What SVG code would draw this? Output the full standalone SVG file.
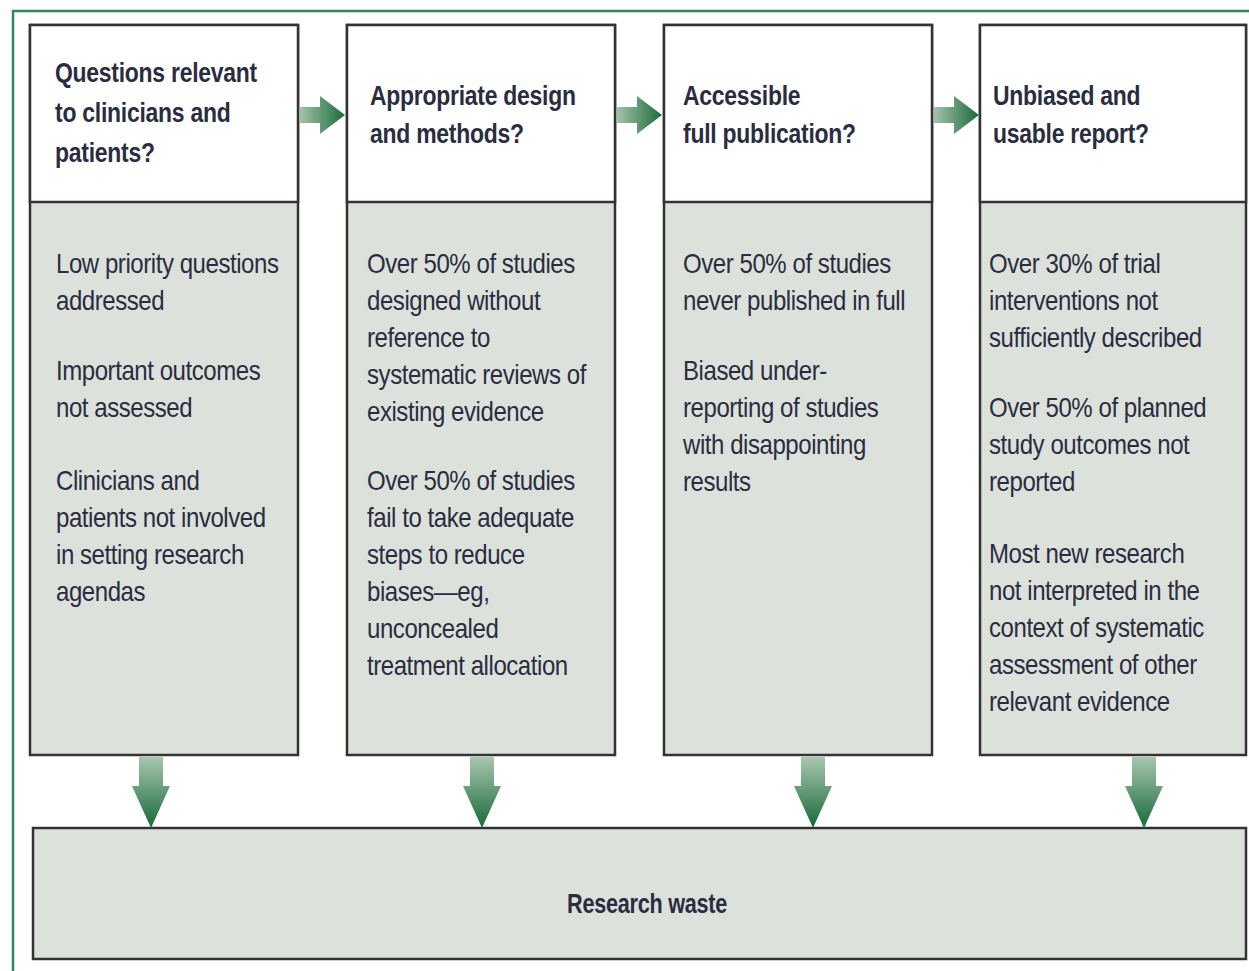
<svg xmlns="http://www.w3.org/2000/svg" width="1249" height="971" viewBox="0 0 1249 971">
<defs>
<style>
.frame{fill:none;stroke:#2f8a5a;stroke-width:2.5}
.hdr{fill:#ffffff;stroke:#333333;stroke-width:2.5}
.body{fill:#dde1dc;stroke:#333333;stroke-width:2.5}
.t{font-family:"Liberation Sans",Arial,sans-serif;font-size:27px;fill:#2a2d40}
.h{font-weight:bold;letter-spacing:-0.3px}
.b{letter-spacing:-0.5px}
</style>
<linearGradient id="gr" x1="0" y1="0" x2="1" y2="0">
<stop offset="0" stop-color="#a3c2aa"/>
<stop offset="1" stop-color="#1b6b3b"/>
</linearGradient>
<linearGradient id="gd" x1="0" y1="0" x2="0" y2="1">
<stop offset="0" stop-color="#a8c6b0"/>
<stop offset="1" stop-color="#166a38"/>
</linearGradient>
<path id="ar" d="M0,-8 L20,-8 L20,-19 L45,0 L20,19 L20,8 L0,8 Z"/>
<path id="ad" d="M-12,0 L12,0 L12,29 L19,29 L0,71 L-19,29 L-12,29 Z"/>
</defs>
<rect x="0" y="0" width="1249" height="971" fill="#ffffff"/>
<rect class="frame" x="13" y="11" width="1260" height="990"/>

<g id="node1">
<rect class="body" x="30" y="25" width="268" height="730"/>
<rect class="hdr" x="30" y="25" width="268" height="177"/>
<text class="t h" transform="translate(55 0) scale(0.85 1)"><tspan x="0" y="82">Questions relevant</tspan><tspan x="0" y="122">to clinicians and</tspan><tspan x="0" y="162">patients?</tspan></text>
<text class="t b" transform="translate(56 0) scale(0.89 1)"><tspan x="0" y="273">Low priority questions</tspan><tspan x="0" y="310">addressed</tspan><tspan x="0" y="380">Important outcomes</tspan><tspan x="0" y="417">not assessed</tspan><tspan x="0" y="490">Clinicians and</tspan><tspan x="0" y="527">patients not involved</tspan><tspan x="0" y="564">in setting research</tspan><tspan x="0" y="601">agendas</tspan></text>
</g>

<g id="node2">
<rect class="body" x="347" y="25" width="268" height="730"/>
<rect class="hdr" x="347" y="25" width="268" height="177"/>
<text class="t h" transform="translate(370 0) scale(0.85 1)"><tspan x="0" y="105">Appropriate design</tspan><tspan x="0" y="143">and methods?</tspan></text>
<text class="t b" transform="translate(367 0) scale(0.89 1)"><tspan x="0" y="273">Over 50% of studies</tspan><tspan x="0" y="310">designed without</tspan><tspan x="0" y="347">reference to</tspan><tspan x="0" y="384">systematic reviews of</tspan><tspan x="0" y="421">existing evidence</tspan><tspan x="0" y="490">Over 50% of studies</tspan><tspan x="0" y="527">fail to take adequate</tspan><tspan x="0" y="564">steps to reduce</tspan><tspan x="0" y="601">biases—eg,</tspan><tspan x="0" y="638">unconcealed</tspan><tspan x="0" y="675">treatment allocation</tspan></text>
</g>

<g id="node3">
<rect class="body" x="664" y="25" width="268" height="730"/>
<rect class="hdr" x="664" y="25" width="268" height="177"/>
<text class="t h" transform="translate(683 0) scale(0.85 1)"><tspan x="0" y="105">Accessible</tspan><tspan x="0" y="143">full publication?</tspan></text>
<text class="t b" transform="translate(683 0) scale(0.89 1)"><tspan x="0" y="273">Over 50% of studies</tspan><tspan x="0" y="310">never published in full</tspan><tspan x="0" y="380">Biased under-</tspan><tspan x="0" y="417">reporting of studies</tspan><tspan x="0" y="454">with disappointing</tspan><tspan x="0" y="491">results</tspan></text>
</g>

<g id="node4">
<rect class="body" x="980" y="25" width="266" height="730"/>
<rect class="hdr" x="980" y="25" width="266" height="177"/>
<text class="t h" transform="translate(993 0) scale(0.85 1)"><tspan x="0" y="105">Unbiased and</tspan><tspan x="0" y="143">usable report?</tspan></text>
<text class="t b" transform="translate(989 0) scale(0.89 1)"><tspan x="0" y="273">Over 30% of trial</tspan><tspan x="0" y="310">interventions not</tspan><tspan x="0" y="347">sufficiently described</tspan><tspan x="0" y="417">Over 50% of planned</tspan><tspan x="0" y="454">study outcomes not</tspan><tspan x="0" y="491">reported</tspan><tspan x="0" y="563">Most new research</tspan><tspan x="0" y="600">not interpreted in the</tspan><tspan x="0" y="637">context of systematic</tspan><tspan x="0" y="674">assessment of other</tspan><tspan x="0" y="711">relevant evidence</tspan></text>
</g>

<g id="node5">
<rect class="body" x="33" y="828" width="1213" height="131"/>
<text class="t h" transform="translate(647 0) scale(0.8 1)" x="0" y="913" text-anchor="middle">Research waste</text>
</g>

<g id="connectors">
<use href="#ar" x="300" y="115" fill="url(#gr)"/>
<use href="#ar" x="617" y="115" fill="url(#gr)"/>
<use href="#ar" x="934" y="115" fill="url(#gr)"/>
<use href="#ad" x="151" y="757" fill="url(#gd)"/>
<use href="#ad" x="482" y="757" fill="url(#gd)"/>
<use href="#ad" x="813" y="757" fill="url(#gd)"/>
<use href="#ad" x="1144" y="757" fill="url(#gd)"/>
</g>
</svg>
